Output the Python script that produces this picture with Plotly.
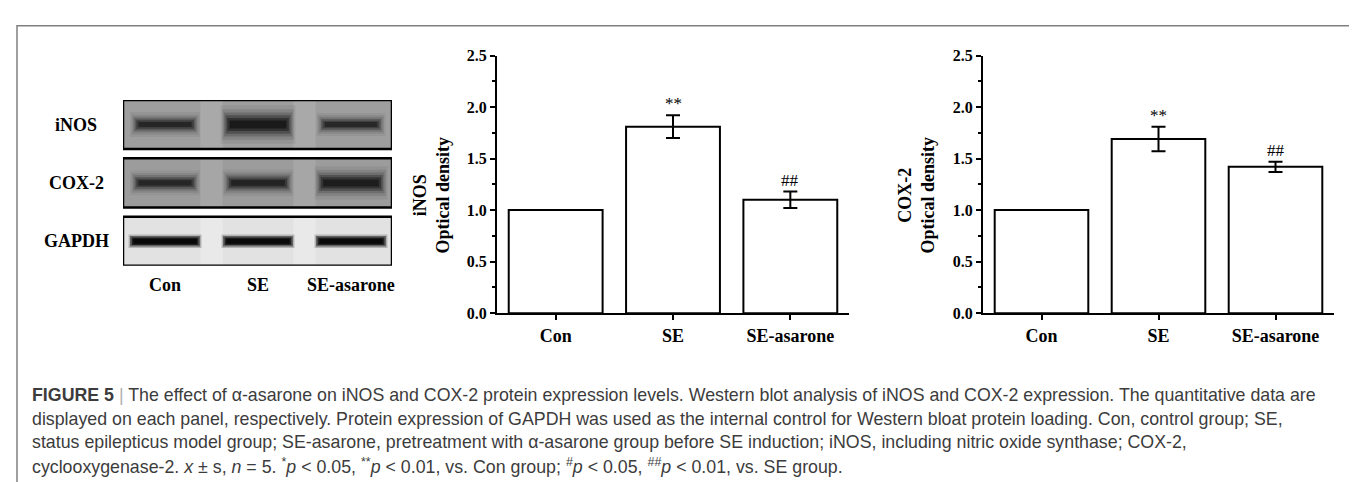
import plotly.graph_objects as go

W, H = 1357, 482

# ---------------- data ----------------
groups = ["Con", "SE", "SE-asarone"]
inos_mean = [1.00, 1.81, 1.10]
inos_err = [None, 0.11, 0.08]
inos_sig = ["", "**", "##"]
cox2_mean = [1.00, 1.69, 1.42]
cox2_err = [None, 0.12, 0.05]
cox2_sig = ["", "**", "##"]
y_ticks = [0.0, 0.5, 1.0, 1.5, 2.0, 2.5]

blot_rows = ["iNOS", "COX-2", "GAPDH"]
# relative band darkness per lane (Con, SE, SE-asarone)
band_iNOS = [0.70, 1.00, 0.65]
band_COX2 = [0.70, 0.75, 0.90]
band_GAPDH = [0.95, 0.92, 0.92]

caption_lines = [
    "<b>FIGURE 5</b> <span style='color:#b0b0b0'>|</span> The effect of α-asarone on iNOS and COX-2 protein expression levels. Western blot analysis of iNOS and COX-2 expression. The quantitative data are",
    "displayed on each panel, respectively. Protein expression of GAPDH was used as the internal control for Western bloat protein loading. Con, control group; SE,",
    "status epilepticus model group; SE-asarone, pretreatment with α-asarone group before SE induction; iNOS, including nitric oxide synthase; COX-2,",
    "cyclooxygenase-2. <i>x</i> ± s, <i>n</i> = 5. <sup>*</sup><i>p</i> &lt; 0.05, <sup>**</sup><i>p</i> &lt; 0.01, vs. Con group; <sup>#</sup><i>p</i> &lt; 0.05, <sup>##</sup><i>p</i> &lt; 0.01, vs. SE group.",
]


def px(x):
    return x / W


def py(y):
    return 1 - y / H


SERIF = "Liberation Serif"
fig = go.Figure()

# ---------------- bar charts ----------------
panels = [
    ("x", "y", inos_mean, inos_err, inos_sig),
    ("x2", "y2", cox2_mean, cox2_err, cox2_sig),
]
for xa, ya, means, errs, sigs in panels:
    fig.add_trace(go.Bar(
        x=[0, 1, 2], y=means, width=0.8, xaxis=xa, yaxis=ya,
        marker=dict(color="white", line=dict(color="black", width=2)),
        error_y=dict(type="data", array=errs, visible=True, color="black",
                     thickness=2, width=7),
        showlegend=False, hoverinfo="skip",
    ))
    for i, s in enumerate(sigs):
        if s:
            fig.add_annotation(
                x=i, y=means[i] + errs[i], xref=xa, yref=ya, text=s,
                showarrow=False, yanchor="bottom", yshift=0,
                font=dict(family=SERIF, size=17, color="black"),
            )

axis_common_x = dict(
    range=[-0.5, 2.5], tickmode="array", tickvals=[0, 1, 2], ticktext=groups,
    ticks="outside", ticklen=5, tickwidth=2, tickcolor="black",
    showline=True, linewidth=2, linecolor="black", showgrid=False, zeroline=False,
    tickfont=dict(family=SERIF, size=18, color="black", weight="bold"),
    fixedrange=True,
)
axis_common_y = dict(
    range=[0, 2.5], tickmode="array", tickvals=y_ticks,
    ticktext=[f"{v:.1f}" for v in y_ticks],
    ticks="outside", ticklen=5, tickwidth=2, tickcolor="black",
    minor=dict(dtick=0.25, tick0=0, ticks="outside", ticklen=3, tickwidth=1.5,
               tickcolor="black", showgrid=False),
    showline=True, linewidth=2, linecolor="black", showgrid=False, zeroline=False,
    tickfont=dict(family=SERIF, size=16, color="black", weight="bold"),
    domain=[py(308), py(41)], fixedrange=True,
)

fig.update_layout(
    xaxis=dict(axis_common_x, domain=[px(489), px(841)], anchor="y"),
    yaxis=dict(axis_common_y, anchor="x"),
    xaxis2=dict(axis_common_x, domain=[px(975), px(1326)], anchor="y2"),
    yaxis2=dict(axis_common_y, anchor="x2"),
)

# y titles
for xc, title in [(423, "iNOS<br>Optical density"), (908, "COX-2<br>Optical density")]:
    fig.add_annotation(
        x=px(xc), y=py(186), xref="paper", yref="paper", text=title,
        textangle=-90, showarrow=False, xanchor="center", yanchor="middle",
        font=dict(family=SERIF, size=18, color="black", weight="bold"),
    )

# ---------------- western blot ----------------
lane_span = [-0.452, 2.441]
row_half = 0.421
fig.update_layout(
    xaxis3=dict(domain=[px(115), px(384)], range=lane_span, anchor="y3",
                visible=False, fixedrange=True),
    yaxis3=dict(domain=[py(259), py(87)], range=[2 + row_half, -row_half],
                anchor="x3", visible=False, fixedrange=True),
)
strip_fill = {"iNOS": "#9e9e9e", "COX-2": "#9c9c9c", "GAPDH": "#e2e2e2"}
gap_fill = {"iNOS": "rgba(255,255,255,0.12)", "COX-2": "rgba(255,255,255,0.10)",
            "GAPDH": "rgba(255,255,255,0.25)"}
for r, name in enumerate(blot_rows):
    fig.add_shape(type="rect", xref="x3", yref="y3",
                  x0=lane_span[0], x1=lane_span[1], y0=r - row_half, y1=r + row_half,
                  fillcolor=strip_fill[name], line=dict(width=0), layer="below")
    # lighter gaps between lanes
    for g in (0.5, 1.5):
        fig.add_shape(type="rect", xref="x3", yref="y3",
                      x0=g - 0.12, x1=g + 0.12, y0=r - row_half, y1=r + row_half,
                      fillcolor=gap_fill[name], line=dict(width=0), layer="below")
    fig.add_annotation(x=px(68), y=r, xref="paper", yref="y3", text=name,
                       showarrow=False, xanchor="center", yanchor="middle",
                       font=dict(family=SERIF, size=18, color="black", weight="bold"))

bands = {"iNOS": band_iNOS, "COX-2": band_COX2, "GAPDH": band_GAPDH}
# (length scale, width scale, alpha)
layers_soft = [(1.12, 2.4, 0.06), (1.07, 1.9, 0.10), (1.02, 1.5, 0.16),
               (0.97, 1.15, 0.25), (0.92, 0.8, 0.35), (0.85, 0.5, 0.45)]
layers_sharp = [(1.06, 1.5, 0.20), (1.02, 1.15, 0.45), (0.97, 0.85, 0.65),
                (0.92, 0.55, 0.7)]
for r, name in enumerate(blot_rows):
    for lane, inten in enumerate(bands[name]):
        if name == "GAPDH":
            half, base, layers = 0.37, 9, layers_sharp
        else:
            half, base, layers = 0.28 + 0.08 * inten, 5 + 11 * inten ** 2, layers_soft
        for ls, ws, a in layers:
            fig.add_trace(go.Scatter(
                x=[lane - half * ls, lane + half * ls], y=[r, r],
                xaxis="x3", yaxis="y3", mode="lines",
                line=dict(color=f"rgba(0,0,0,{min(1, a * (0.45 + 0.6 * inten)):.3f})",
                          width=base * ws),
                showlegend=False, hoverinfo="skip",
            ))

# strip frames on top
for r, name in enumerate(blot_rows):
    fig.add_shape(type="rect", xref="x3", yref="y3",
                  x0=lane_span[0], x1=lane_span[1], y0=r - row_half, y1=r + row_half,
                  fillcolor="rgba(0,0,0,0)", line=dict(color="black", width=2.5),
                  layer="above")

for lane, g in enumerate(groups):
    fig.add_annotation(x=lane, y=py(279), xref="x3", yref="paper", text=g,
                       showarrow=False, xanchor="center", yanchor="middle",
                       font=dict(family=SERIF, size=18, color="black", weight="bold"))

# ---------------- caption & frame ----------------
for i, line in enumerate(caption_lines):
    fig.add_annotation(x=px(22), y=py(393 + 24.5 * i), xref="paper", yref="paper",
                       text=line, showarrow=False, xanchor="left", yanchor="middle",
                       align="left",
                       font=dict(family="Liberation Sans", size=17.8, color="#3c3c3c"))

fig.add_shape(type="rect", xref="paper", yref="paper",
              x0=px(9), x1=px(1355), y0=-0.2, y1=py(10),
              line=dict(color="#808080", width=1.5), fillcolor="rgba(0,0,0,0)",
              layer="below")

fig.update_layout(
    width=W, height=H, margin=dict(l=0, r=0, t=0, b=0),
    paper_bgcolor="white", plot_bgcolor="rgba(0,0,0,0)",
    showlegend=False, bargap=0.2,
)

fig.write_html("out.html", config={"displayModeBar": False})
